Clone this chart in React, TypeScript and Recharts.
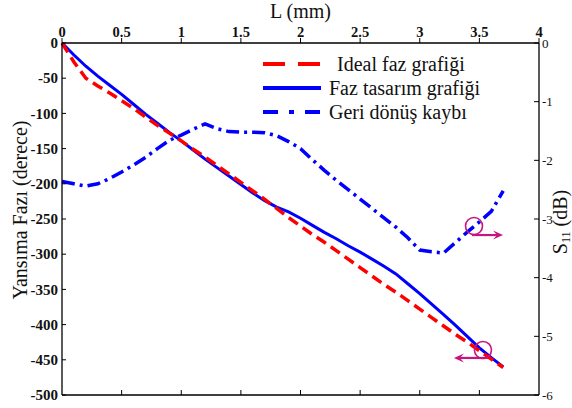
import { LineChart, Line, XAxis, YAxis, Legend, ReferenceDot } from 'recharts'

const FONT = '"Liberation Serif", "DejaVu Serif", "Noto Serif", "Times New Roman", Times, serif'
const MAGENTA = '#c8157e'

// L (mm)
const L_MM = [
  0, 0.1, 0.2, 0.3, 0.4, 0.5, 0.6, 0.7, 0.8, 0.9,
  1.0, 1.1, 1.2, 1.3, 1.4, 1.5, 1.6, 1.7, 1.8, 1.9,
  2.0, 2.1, 2.2, 2.3, 2.4, 2.5, 2.6, 2.7, 2.8, 2.9,
  3.0, 3.1, 3.2, 3.3, 3.4, 3.5, 3.6, 3.7,
]

// Ideal faz grafiği (derece)
const IDEAL_PHASE = [
  0, -27, -50, -61, -71, -82, -93, -105, -117, -128,
  -139, -151, -162, -174, -186, -198, -210, -222, -235, -248,
  -260, -272, -283, -295, -307, -319, -331, -343, -354, -366,
  -378, -390, -402, -414, -425, -437, -449, -461,
]

// Faz tasarım grafiği (derece)
const DESIGN_PHASE = [
  0, -17, -33, -47, -60, -73, -87, -101, -114, -127,
  -139, -152, -165, -177, -189, -201, -213, -224, -233, -240,
  -249, -259, -269, -278, -288, -297, -307, -317, -328, -342,
  -356, -371, -386, -401, -417, -433, -447, -460,
]

// Geri dönüş kaybı, S11 (dB)
const RETURN_LOSS = [
  -2.36, -2.4, -2.44, -2.4, -2.31, -2.2, -2.08, -1.95, -1.8, -1.66,
  -1.57, -1.47, -1.38, -1.46, -1.51, -1.52, -1.52, -1.53, -1.58, -1.68,
  -1.8, -1.99, -2.17, -2.34, -2.5, -2.66, -2.82, -2.98, -3.14, -3.32,
  -3.53, -3.56, -3.58, -3.4, -3.22, -3.05, -2.87, -2.52,
]

const L_TICKS = [0, 0.5, 1, 1.5, 2, 2.5, 3, 3.5, 4]
const PHASE_TICKS = [0, -50, -100, -150, -200, -250, -300, -350, -400, -450, -500]
const S11_TICKS = [0, -1, -2, -3, -4, -5, -6]

// circle + arrow markers: which curve belongs to which axis
const MARK_S11 = { L: 3.455, value: -3.12 }
const MARK_PHASE = { L: 3.53, value: -436 }

const LEGEND_ITEMS = [
  { name: 'Ideal faz grafiği', color: '#ff0000', dash: '22 13', gap: 15 },
  { name: 'Faz tasarım grafiği', color: '#0000ff', dash: undefined, gap: 7 },
  { name: 'Geri dönüş kaybı', color: '#0000ff', dash: '15 11 5 11', gap: 7 },
]

const data = L_MM.map((l, i) => ({
  L: l,
  ideal: IDEAL_PHASE[i],
  design: DESIGN_PHASE[i],
  s11: RETURN_LOSS[i],
}))

const textStyle = { fontFamily: FONT }

function LeftTick({ x, y, payload }: any) {
  return (
    <g>
      <line x1={x} y1={y} x2={x + 4} y2={y} stroke="#000" />
      <text x={x - 4} y={y} dy="0.35em" textAnchor="end" fontSize={15} fontWeight="bold"
        fill="#111" style={textStyle}>{payload.value}</text>
    </g>
  )
}

function RightTick({ x, y, payload }: any) {
  return (
    <g>
      <line x1={x} y1={y} x2={x - 5} y2={y} stroke="#000" />
      <text x={x + 3} y={y} dy="0.35em" textAnchor="start" fontSize={13}
        fill="#111" style={textStyle}>{payload.value}</text>
    </g>
  )
}

function BottomTick({ x, y, payload }: any) {
  if (payload.value === 0 || payload.value === 4) return <g />
  return <line x1={x} y1={y} x2={x} y2={y - 5} stroke="#000" />
}

function LeftTitle({ viewBox }: any) {
  const cx = viewBox.x + 20
  const cy = viewBox.y + viewBox.height / 2 - 9
  return (
    <text transform={`translate(${cx},${cy}) rotate(-90)`} textAnchor="middle" dy="0.35em"
      fontSize={20} fill="#111" style={textStyle}>Yansıma Fazı (derece)</text>
  )
}

function RightTitle({ viewBox }: any) {
  const cx = viewBox.x + 21
  const cy = viewBox.y + viewBox.height / 2 + 3
  return (
    <text transform={`translate(${cx},${cy}) rotate(-90)`} textAnchor="middle" dy="0.35em"
      fontSize={20} fill="#111" style={textStyle}>
      <tspan>S</tspan>
      <tspan fontSize={12} dy={3}>11</tspan>
      <tspan dy={-3}> (dB)</tspan>
    </text>
  )
}

function arrowHead(tipX: number, y: number, dir: number) {
  const back = tipX - dir * 10
  const mid = tipX - dir * 6
  return `${tipX},${y} ${back},${y - 4.5} ${mid},${y} ${back},${y + 4.5}`
}

function RightMark({ cx, cy }: any) {
  const ay = cy + 9
  const tip = cx + 29
  return (
    <g>
      <circle cx={cx} cy={cy} r={8.5} fill="none" stroke={MAGENTA} strokeWidth={1.6} />
      <line x1={cx - 2} y1={ay} x2={tip - 4} y2={ay} stroke={MAGENTA} strokeWidth={2.2} />
      <polygon points={arrowHead(tip, ay, 1)} fill={MAGENTA} />
    </g>
  )
}

function LeftMark({ cx, cy }: any) {
  const ay = cy + 8
  const tip = cx - 29
  return (
    <g>
      <circle cx={cx} cy={cy} r={8.5} fill="none" stroke={MAGENTA} strokeWidth={1.6} />
      <line x1={cx + 5} y1={ay} x2={tip + 4} y2={ay} stroke={MAGENTA} strokeWidth={2.2} />
      <polygon points={arrowHead(tip, ay, -1)} fill={MAGENTA} />
    </g>
  )
}

function LegendBox() {
  return (
    <div style={{ fontFamily: FONT, fontSize: 20, color: '#111', lineHeight: '24px' }}>
      {LEGEND_ITEMS.map((item) => (
        <div key={item.name} style={{ display: 'flex', alignItems: 'center', height: 24 }}>
          <svg width={60} height={10} style={{ display: 'block' }}>
            <line x1={1} y1={5} x2={59} y2={5} stroke={item.color} strokeWidth={4}
              strokeDasharray={item.dash} />
          </svg>
          <span style={{ marginLeft: item.gap, whiteSpace: 'nowrap' }}>{item.name}</span>
        </div>
      ))}
    </div>
  )
}

export default function App() {
  return (
    <div style={{ width: 572, height: 408, background: '#fff', fontFamily: FONT }}>
      <style>{'body{margin:0} svg text{font-family:' + FONT + '}'}</style>
      <LineChart width={572} height={408} data={data}
        margin={{ top: 0, right: 0, bottom: 0, left: 0 }} style={{ fontFamily: FONT }}>
        <XAxis xAxisId="top" orientation="top" dataKey="L" type="number" domain={[0, 4]}
          ticks={L_TICKS} interval={0} height={43} tickSize={5} tickMargin={1}
          axisLine={{ stroke: '#000', strokeWidth: 1.3 }} tickLine={{ stroke: '#000' }}
          tick={{ fontSize: 14.5, fontWeight: 'bold', fill: '#111', fontFamily: FONT }}
          label={{ value: 'L (mm)', position: 'insideTop', offset: 4, fontSize: 20, fill: '#111', fontFamily: FONT }} />
        <XAxis xAxisId="bottom" orientation="bottom" dataKey="L" type="number" domain={[0, 4]}
          ticks={L_TICKS} interval={0} height={13} tickSize={0} tickMargin={0} tickLine={false}
          axisLine={{ stroke: '#000', strokeWidth: 1.3 }} tick={<BottomTick />} />
        <YAxis yAxisId="left" orientation="left" type="number" domain={[-500, 0]}
          ticks={PHASE_TICKS} interval={0} width={62} tickSize={0} tickMargin={0} tickLine={false}
          axisLine={{ stroke: '#000', strokeWidth: 1.3 }} tick={<LeftTick />}
          label={<LeftTitle />} />
        <YAxis yAxisId="right" orientation="right" type="number" domain={[-6, 0]}
          ticks={S11_TICKS} interval={0} width={33} tickSize={0} tickMargin={0} tickLine={false}
          axisLine={{ stroke: '#000', strokeWidth: 1.3 }} tick={<RightTick />}
          label={<RightTitle />} />
        <Legend layout="vertical" align="center" verticalAlign="middle"
          wrapperStyle={{ left: 262, top: 52, width: 260, height: 72 }}
          content={() => <LegendBox />} />
        <Line xAxisId="top" yAxisId="right" dataKey="s11" type="linear" stroke="#0000ff"
          strokeWidth={3.5} strokeDasharray="13 5 3 5" dot={false} isAnimationActive={false} />
        <Line xAxisId="top" yAxisId="left" dataKey="design" type="linear" stroke="#0000ff"
          strokeWidth={3} dot={false} isAnimationActive={false} />
        <Line xAxisId="top" yAxisId="left" dataKey="ideal" type="linear" stroke="#ff0000"
          strokeWidth={3.5} strokeDasharray="11 6" dot={false} isAnimationActive={false} />
        <ReferenceDot xAxisId="top" yAxisId="right" x={MARK_S11.L} y={MARK_S11.value}
          r={9} shape={<RightMark />} />
        <ReferenceDot xAxisId="top" yAxisId="left" x={MARK_PHASE.L} y={MARK_PHASE.value}
          r={9} shape={<LeftMark />} />
      </LineChart>
    </div>
  )
}
